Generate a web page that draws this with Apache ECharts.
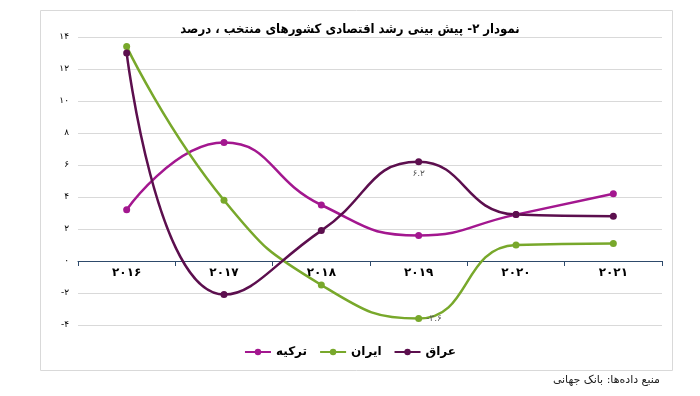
<!DOCTYPE html>
<html><head><meta charset="utf-8">
<script src="https://cdn.jsdelivr.net/npm/echarts@6/dist/echarts.min.js"></script>
<style>html,body{margin:0;padding:0;background:#fff;}#c{width:700px;height:396px;}</style>
</head><body><div id="c"></div>
<script>
const categories = ['2016','2017','2018','2019','2020','2021'];
const turkey = [3.2, 7.4, 3.5, 1.6, 2.9, 4.2];
const iran = [13.4, 3.8, -1.5, -3.6, 1.0, 1.1];
const iraq = [13.0, -2.1, 1.9, 6.2, 2.9, 2.8];
const seriesNames = ['ترکیه', 'ایران', 'عراق'];
const titleText = 'نمودار ۲- پیش بینی رشد اقتصادی کشورهای منتخب ، درصد';
const sourceText = 'منبع داده‌ها: بانک جهانی';

const fa = s => String(s).replace(/[0-9]/g, d => '۰۱۲۳۴۵۶۷۸۹'[d]);
const FONT = 'DejaVu Sans';
const FONTC = '"DejaVu Sans Condensed", "DejaVu Sans"';

function withLabel(arr, idx, pos) {
  return arr.map((v, i) => i === idx ? {value: v, label: {show: true, position: pos, distance: 4, formatter: p => '\u200E' + fa(p.value < 0 ? '-' + Math.abs(p.value) : p.value), color: '#595959', fontSize: 9, fontFamily: FONT}} : v);
}

const chart = echarts.init(document.getElementById('c'));
chart.setOption({
  animation: false,
  textStyle: {fontFamily: FONT},
  graphic: [
    {type: 'rect', shape: {x: 40.5, y: 10.5, width: 632, height: 360}, style: {fill: 'none', stroke: '#d9d9d9', lineWidth: 1}, silent: true},
    {type: 'text', right: 40, top: 375, style: {text: sourceText, font: '11px "DejaVu Sans"', fill: '#222'}}
  ],
  title: {text: titleText, left: 'center', top: 18, textStyle: {fontFamily: FONTC, fontSize: 13, fontWeight: 'bold', color: '#000'}},
  legend: {
    data: seriesNames, bottom: 33, left: 'center', itemWidth: 26, itemHeight: 8, itemGap: 12,
    textStyle: {fontFamily: FONT, fontSize: 12, fontWeight: 'bold', color: '#000'}
  },
  grid: {left: 78, right: 38, top: 37, bottom: 71},
  xAxis: {
    type: 'category', data: categories, boundaryGap: true,
    axisLine: {onZero: true, lineStyle: {color: '#2e4a6b', width: 1}},
    axisTick: {show: true, length: 5, lineStyle: {color: '#2e4a6b'}},
    axisLabel: {formatter: v => fa(v), fontFamily: FONT, fontSize: 12, fontWeight: 'bold', color: '#000', margin: -58}
  },
  yAxis: {
    type: 'value', min: -4, max: 14, interval: 2,
    axisLine: {show: false}, axisTick: {show: false},
    splitLine: {lineStyle: {color: '#d9d9d9'}},
    axisLabel: {formatter: v => fa(v < 0 ? '-' + Math.abs(v) : v), fontFamily: FONT, fontSize: 9, color: '#000', margin: 9}
  },
  series: [
    {name: seriesNames[0], type: 'line', data: turkey, smooth: 0.5, symbol: 'circle', symbolSize: 7,
     lineStyle: {color: '#a3178f', width: 2.5}, itemStyle: {color: '#a3178f'}},
    {name: seriesNames[1], type: 'line', data: withLabel(iran, 3, 'right'), smooth: 0.5, symbol: 'circle', symbolSize: 7,
     lineStyle: {color: '#78a82b', width: 2.5}, itemStyle: {color: '#78a82b'}},
    {name: seriesNames[2], type: 'line', data: withLabel(iraq, 3, 'bottom'), smooth: 0.5, symbol: 'circle', symbolSize: 7,
     lineStyle: {color: '#5c0f4e', width: 2.5}, itemStyle: {color: '#5c0f4e'}}
  ]
});
</script></body></html>
